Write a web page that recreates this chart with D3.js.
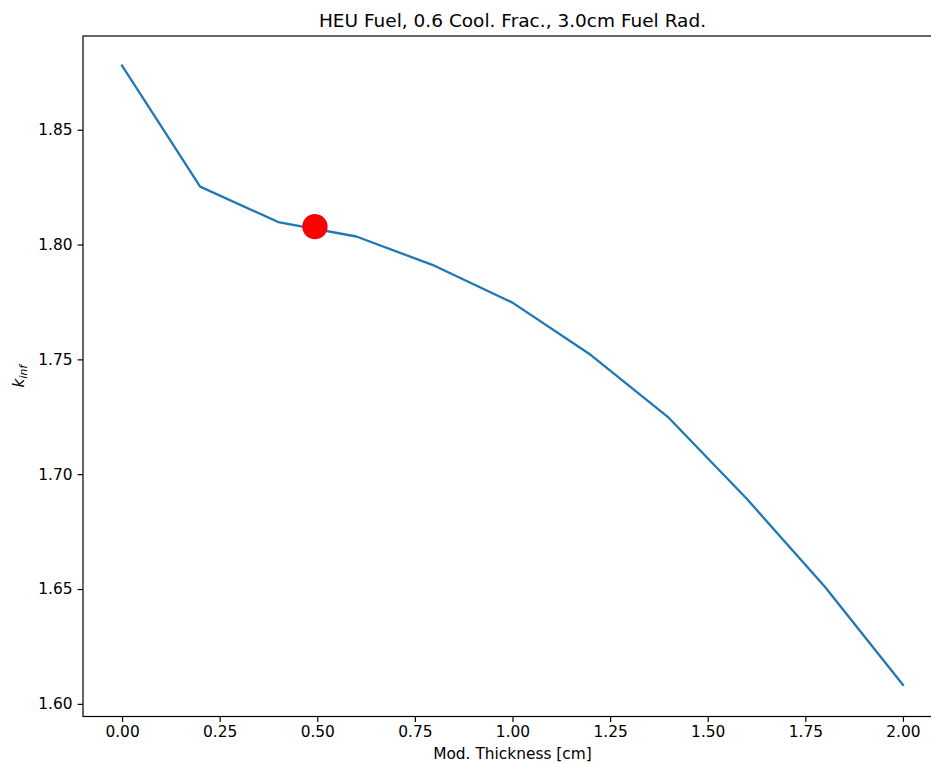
<!DOCTYPE html>
<html><head><meta charset="utf-8">
<script src="https://cdn.jsdelivr.net/npm/d3@7"></script>
<style>body{margin:0;background:#fff}text{font-family:"DejaVu Sans",sans-serif;fill:#000}</style>
</head><body>
<svg id="c" width="931" height="764"></svg>
<script>
const xValues = [0, 0.2, 0.4, 0.6, 0.8, 1.0, 1.2, 1.4, 1.6, 1.8, 2.0];
const kValues = [1.8779, 1.8252, 1.8098, 1.8035, 1.7908, 1.7747, 1.7520, 1.7246, 1.6893, 1.6510, 1.6083];
const markX = [0.494];
const markY = [1.8078];
const xTicks = [0, 0.25, 0.5, 0.75, 1.0, 1.25, 1.5, 1.75, 2.0];
const yTicks = [1.60, 1.65, 1.70, 1.75, 1.80, 1.85];

const L = 83, R = 942, T = 36, B = 716.5;
const svg = d3.select("#c");
const x = d3.scaleLinear().domain([-0.1, 2.1]).range([L, R]);
const ymin = 1.5945, ymax = 1.8908;
const y = d3.scaleLinear().domain([ymin, ymax]).range([B, T]);

const gx = svg.append("g").attr("transform", `translate(0,${B})`)
  .call(d3.axisBottom(x).tickValues(xTicks).tickFormat(d3.format(".2f")).tickSize(5.4).tickPadding(4.5));
const gy = svg.append("g").attr("transform", `translate(${L},0)`)
  .call(d3.axisLeft(y).tickValues(yTicks).tickFormat(d3.format(".2f")).tickSize(5.4).tickPadding(5));
[gx, gy].forEach(g => {
  g.select(".domain").remove();
  g.selectAll("line").attr("stroke", "#000").attr("stroke-width", 1.2);
  g.selectAll("text").style("font-size", "15.4px").style("font-family", "DejaVu Sans").attr("fill", "#262626");
});

const line = d3.line().x((d, i) => x(xValues[i])).y(d => y(d));
svg.append("path").datum(kValues).attr("d", line)
  .attr("fill", "none").attr("stroke", "#1f77b4").attr("stroke-width", 2.3)
  .attr("stroke-linejoin", "round").attr("stroke-linecap", "square");

svg.selectAll("circle.m").data(markX).enter().append("circle")
  .attr("cx", d => x(d)).attr("cy", (d, i) => y(markY[i])).attr("r", 12.7).attr("fill", "red");

svg.append("rect").attr("x", L).attr("y", T).attr("width", R - L).attr("height", B - T)
  .attr("fill", "none").attr("stroke", "#000").attr("stroke-width", 1.2);

svg.append("text").attr("x", (L + R) / 2).attr("y", 27).attr("text-anchor", "middle")
  .style("font-size", "18.5px").text("HEU Fuel, 0.6 Cool. Frac., 3.0cm Fuel Rad.");
svg.append("text").attr("x", (L + R) / 2).attr("y", 759).attr("text-anchor", "middle")
  .style("font-size", "15.4px").text("Mod. Thickness [cm]");
const yl = svg.append("text").attr("transform", `translate(24,${(T + B) / 2}) rotate(-90)`)
  .attr("text-anchor", "middle").style("font-size", "15.4px");
yl.append("tspan").style("font-style", "italic").text("k");
yl.append("tspan").style("font-style", "italic").style("font-size", "10.8px").attr("dy", 3).text("inf");
</script>
</body></html>
